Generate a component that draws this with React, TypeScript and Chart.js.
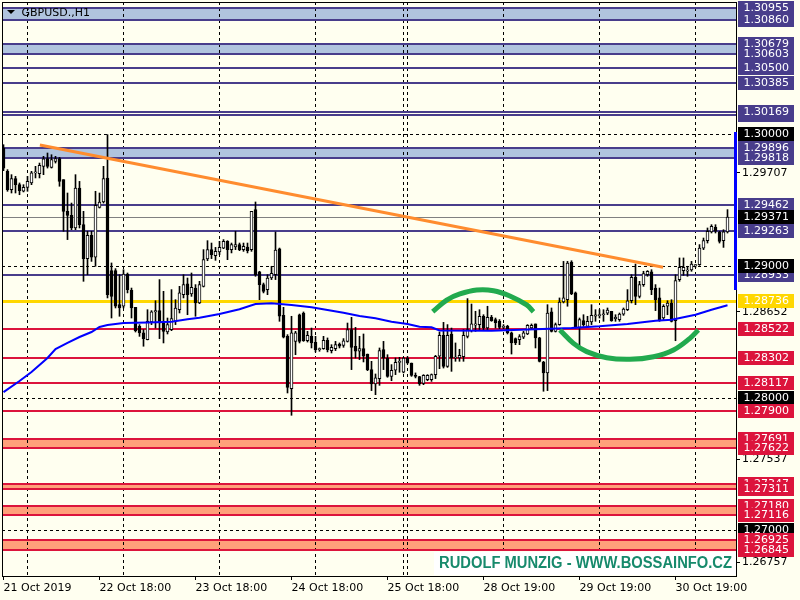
import { useEffect, useRef } from 'react';
import { Chart, registerables } from 'chart.js';

Chart.register(...registerables);

// ---------- DATA (GBPUSD., H1) ----------
const openP = [
  1.29894,1.29717,1.29578,1.29662,1.29616,1.29566,1.29596,1.29629,1.29705,1.29700,
  1.29755,1.29813,1.29747,1.29793,1.29813,1.29654,1.29414,1.29384,1.29288,1.29591,
  1.29313,1.29056,1.29232,1.29066,1.29444,1.29485,1.29667,1.28965,1.28965,1.28707,
  1.28695,1.28939,1.28816,1.28687,1.28543,1.28493,1.28442,1.28576,1.28652,1.28662,
  1.28568,1.28500,1.28518,1.28581,1.28669,1.28783,1.28864,1.28788,1.28833,1.28720,
  1.28846,1.29053,1.29124,1.29078,1.29106,1.29136,1.29187,1.29124,1.29144,1.29162,
  1.29124,1.29144,1.29124,1.29427,1.28955,1.28859,1.28821,1.28909,1.28934,1.29131,
  1.28626,1.28467,1.28071,1.28429,1.28631,1.28644,1.28434,1.28467,1.28422,1.28366,
  1.28374,1.28437,1.28359,1.28374,1.28409,1.28399,1.28429,1.28518,1.28392,1.28354,
  1.28374,1.28333,1.28215,1.28106,1.28147,1.28366,1.28303,1.28164,1.28210,1.28270,
  1.28195,1.28303,1.28265,1.28172,1.28162,1.28111,1.28139,1.28139,1.28177,1.28316,
  1.28475,1.28240,1.28485,1.28303,1.28303,1.28313,1.28467,1.28510,1.28551,1.28556,
  1.28619,1.28530,1.28611,1.28594,1.28581,1.28535,1.28543,1.28493,1.28450,1.28442,
  1.28460,1.28485,1.28530,1.28561,1.28455,1.28273,1.28190,1.28652,1.28505,1.28556,
  1.28727,1.28745,1.29030,1.28796,1.28535,1.28586,1.28543,1.28576,1.28619,1.28624,
  1.28631,1.28642,1.28657,1.28601,1.28594,1.28636,1.28669,1.28737,1.28914,1.28770,
  1.28859,1.28934,1.28955,1.28833,1.28758,1.28606,1.28695,1.28720,1.28586,1.28897,
  1.28965,1.28960,1.28970,1.29000,1.29010,1.29136,1.29192,1.29258,1.29293,1.29255,
  1.29192,1.29258,
];
const highP = [
  1.29919,1.29730,1.29692,1.29679,1.29629,1.29616,1.29679,1.29717,1.29755,1.29780,
  1.29831,1.29856,1.29843,1.29831,1.29823,1.29654,1.29553,1.29477,1.29692,1.29641,
  1.29414,1.29263,1.29263,1.29566,1.29553,1.29755,1.29995,1.29023,1.28980,1.28934,
  1.28972,1.28947,1.28833,1.28687,1.28556,1.28518,1.28669,1.28662,1.28737,1.28897,
  1.28808,1.28606,1.28821,1.28745,1.28846,1.28934,1.28909,1.28947,1.28859,1.28884,
  1.29124,1.29192,1.29174,1.29141,1.29187,1.29200,1.29192,1.29174,1.29263,1.29174,
  1.29174,1.29174,1.29414,1.29485,1.28960,1.28871,1.28934,1.28998,1.29258,1.29136,
  1.28687,1.28480,1.28619,1.28505,1.28636,1.28652,1.28505,1.28530,1.28467,1.28379,
  1.28467,1.28455,1.28404,1.28429,1.28417,1.28450,1.28568,1.28611,1.28535,1.28467,
  1.28485,1.28333,1.28278,1.28182,1.28379,1.28429,1.28328,1.28253,1.28303,1.28308,
  1.28308,1.28313,1.28265,1.28190,1.28164,1.28177,1.28177,1.28182,1.28323,1.28500,
  1.28573,1.28556,1.28530,1.28417,1.28369,1.28518,1.28753,1.28712,1.28657,1.28669,
  1.28631,1.28695,1.28626,1.28606,1.28594,1.28556,1.28551,1.28500,1.28455,1.28480,
  1.28505,1.28556,1.28561,1.28561,1.28460,1.28278,1.28707,1.28682,1.28568,1.28758,
  1.29035,1.29035,1.29040,1.28803,1.28606,1.28631,1.28619,1.28707,1.28669,1.28669,
  1.28669,1.28682,1.28657,1.28631,1.28644,1.28682,1.28821,1.28934,1.29015,1.28884,
  1.28960,1.28965,1.28972,1.28859,1.28833,1.28707,1.28737,1.28745,1.28934,1.29061,
  1.29061,1.28998,1.29035,1.29010,1.29162,1.29212,1.29288,1.29313,1.29313,1.29263,
  1.29275,1.29427,
];
const lowP = [
  1.29722,1.29566,1.29553,1.29553,1.29540,1.29561,1.29566,1.29616,1.29667,1.29667,
  1.29692,1.29742,1.29742,1.29780,1.29604,1.29263,1.29200,1.29275,1.29275,1.29288,
  1.28884,1.28934,1.29035,1.28998,1.29439,1.29477,1.28758,1.28606,1.28682,1.28619,
  1.28682,1.28796,1.28606,1.28500,1.28467,1.28392,1.28440,1.28556,1.28530,1.28450,
  1.28417,1.28485,1.28510,1.28556,1.28644,1.28758,1.28631,1.28770,1.28619,1.28715,
  1.28841,1.29040,1.29056,1.29043,1.29086,1.29131,1.29048,1.29099,1.29124,1.29116,
  1.29111,1.29099,1.29111,1.28922,1.28745,1.28796,1.28783,1.28897,1.28897,1.28581,
  1.28455,1.28038,1.27869,1.28328,1.28417,1.28429,1.28424,1.28379,1.28349,1.28354,
  1.28369,1.28349,1.28341,1.28359,1.28379,1.28384,1.28424,1.28215,1.28303,1.28291,
  1.28273,1.28207,1.28056,1.28025,1.28096,1.28215,1.28157,1.28131,1.28177,1.28195,
  1.28190,1.28258,1.28164,1.28152,1.28096,1.28101,1.28131,1.28126,1.28147,1.28222,
  1.28227,1.28232,1.28202,1.28278,1.28278,1.28278,1.28455,1.28500,1.28505,1.28518,
  1.28510,1.28518,1.28581,1.28530,1.28525,1.28525,1.28485,1.28333,1.28404,1.28404,
  1.28450,1.28480,1.28518,1.28379,1.28273,1.28051,1.28056,1.28500,1.28500,1.28551,
  1.28720,1.28695,1.28783,1.28530,1.28392,1.28543,1.28535,1.28556,1.28581,1.28606,
  1.28581,1.28631,1.28581,1.28581,1.28581,1.28626,1.28662,1.28720,1.28707,1.28758,
  1.28846,1.28922,1.28783,1.28662,1.28581,1.28594,1.28631,1.28576,1.28434,1.28884,
  1.28929,1.28922,1.28960,1.28990,1.29005,1.29124,1.29174,1.29250,1.29250,1.29174,
  1.29141,1.29250,
];
const closeP = [
  1.29742,1.29578,1.29662,1.29616,1.29571,1.29596,1.29641,1.29705,1.29712,1.29763,
  1.29811,1.29755,1.29806,1.29813,1.29641,1.29414,1.29384,1.29288,1.29591,1.29313,
  1.29056,1.29232,1.29066,1.29460,1.29485,1.29662,1.28783,1.28770,1.28695,1.28682,
  1.28939,1.28821,1.28682,1.28510,1.28493,1.28450,1.28581,1.28652,1.28662,1.28568,
  1.28505,1.28556,1.28601,1.28682,1.28796,1.28859,1.28783,1.28838,1.28720,1.28859,
  1.29048,1.29124,1.29086,1.29111,1.29141,1.29187,1.29124,1.29162,1.29162,1.29124,
  1.29149,1.29116,1.29414,1.28934,1.28859,1.28808,1.28909,1.28945,1.29121,1.28619,
  1.28460,1.28081,1.28493,1.28493,1.28429,1.28434,1.28475,1.28417,1.28366,1.28374,
  1.28437,1.28366,1.28384,1.28404,1.28392,1.28434,1.28518,1.28384,1.28354,1.28374,
  1.28316,1.28215,1.28106,1.28152,1.28359,1.28303,1.28164,1.28210,1.28270,1.28278,
  1.28303,1.28265,1.28172,1.28164,1.28106,1.28172,1.28172,1.28177,1.28316,1.28475,
  1.28240,1.28475,1.28303,1.28308,1.28323,1.28475,1.28518,1.28561,1.28561,1.28619,
  1.28530,1.28611,1.28586,1.28571,1.28535,1.28543,1.28493,1.28417,1.28417,1.28465,
  1.28493,1.28551,1.28551,1.28455,1.28278,1.28190,1.28644,1.28505,1.28556,1.28727,
  1.28758,1.29023,1.28788,1.28535,1.28594,1.28556,1.28581,1.28626,1.28631,1.28631,
  1.28636,1.28667,1.28586,1.28611,1.28636,1.28674,1.28737,1.28914,1.28770,1.28859,
  1.28942,1.28960,1.28821,1.28745,1.28586,1.28695,1.28720,1.28581,1.28889,1.28990,
  1.28990,1.28970,1.29015,1.29010,1.29136,1.29192,1.29263,1.29301,1.29263,1.29187,
  1.29258,1.29371,
];

// x-axis: bar index of each date label
const dateTickBars = [0, 24, 48, 72, 96, 120, 144, 168];
const dateTickLabels = ['21 Oct 2019', '22 Oct 18:00', '23 Oct 18:00', '24 Oct 18:00', '25 Oct 18:00', '28 Oct 19:00', '29 Oct 19:00', '30 Oct 19:00'];
const gridBars = [6, 30, 54, 78, 100, 101, 125, 149, 173];
const priceTicks = [1.29707, 1.28652, 1.27537, 1.26757];

// moving average (read at selected bars)
const maBars = [0, 4, 7, 11, 13, 16, 19, 22, 24, 26, 30, 36, 42, 46, 49, 54, 59, 63, 67, 72, 77, 81, 85, 89, 93, 97, 101, 104, 107, 109, 122, 142, 149, 156, 163, 167, 173, 177, 181];
const maValues = [1.28045, 1.28129, 1.28197, 1.28303, 1.28371, 1.28417, 1.28462, 1.28500, 1.28538, 1.28553, 1.28568, 1.28572, 1.28578, 1.28596, 1.28608, 1.28636, 1.28672, 1.28712, 1.28717, 1.28705, 1.28687, 1.28667, 1.28646, 1.28621, 1.28604, 1.28578, 1.28561, 1.28540, 1.28536, 1.28511, 1.28510, 1.28530, 1.28543, 1.28561, 1.28586, 1.28593, 1.28631, 1.28669, 1.28702];

// orange trend line
const trendBars = [9.1, 164.9];
const trendValues = [1.29917, 1.28990];

// green arcs
const domeBars = [107.3, 110.8, 114.1, 118.3, 122.5, 126.6, 130.8, 132.5];
const domeValues = [1.28654, 1.28742, 1.28788, 1.28818, 1.28813, 1.28773, 1.28705, 1.28654];
const bowlBars = [139.1, 142.5, 145.8, 150.8, 156.6, 162.5, 167.5, 171.6, 173.7];
const bowlValues = [1.28515, 1.28414, 1.28351, 1.28305, 1.28293, 1.28313, 1.28364, 1.28452, 1.28515];

// horizontal levels
const blueLevels = [1.30955, 1.30860, 1.30679, 1.30603, 1.30500, 1.30385, 1.30169, 1.30145, 1.29896, 1.29818, 1.29462, 1.29263, 1.28933];
const blueBands = [[1.30955, 1.30860], [1.30679, 1.30603], [1.29896, 1.29818]];
const redLevels = [1.28522, 1.28302, 1.28117, 1.27900, 1.27691, 1.27622, 1.27347, 1.27311, 1.27180, 1.27116, 1.26925, 1.26845];
const redBands = [[1.27691, 1.27622], [1.27347, 1.27311], [1.27180, 1.27116], [1.26925, 1.26845]];
const roundLevels = [1.30000, 1.29000, 1.28000, 1.27000];
const goldLevel = 1.28736;
const currentPrice = 1.29371;
const rangeBar = [1.30015, 1.28818];

// right-axis price labels, in drawing order
const labelValues = [1.30955, 1.30860, 1.30679, 1.30603, 1.30500, 1.30385, 1.30145, 1.30169, 1.30000, 1.29896, 1.29818, 1.29462, 1.29263, 1.29371, 1.28933, 1.29000, 1.28736, 1.28522, 1.28302, 1.28117, 1.28000, 1.27900, 1.27691, 1.27622, 1.27347, 1.27311, 1.27180, 1.27116, 1.27000, 1.26925, 1.26845];
const labelKinds = ['blue', 'blue', 'blue', 'blue', 'blue', 'blue', 'blue', 'blue', 'black', 'blue', 'blue', 'blue', 'blue', 'black', 'blue', 'black', 'gold', 'red', 'red', 'red', 'black', 'red', 'red', 'red', 'red', 'red', 'red', 'red', 'black', 'red', 'red'];

const symbolTitle = 'GBPUSD.,H1';
const watermark = 'RUDOLF MUNZIG - WWW.BOSSAINFO.CZ';

// ---------- STYLE ----------
const BG = '#FFFFF0';
const BLUE_LINE = '#483D8B';
const BLUE_FILL = '#B0C4DE';
const RED_LINE = '#DC143C';
const RED_FILL = '#FFA07A';
const GOLD = '#FFD700';
const FONT = '"DejaVu Sans", sans-serif';
const kindColor: Record<string, string> = { blue: BLUE_LINE, red: RED_LINE, black: '#000000', gold: GOLD };

const Y_MAX = 1.31;
const Y_MIN = 1.2665152;
const X_MIN = -0.375;
const X_MAX = 183.125;

const mt4Plugin = {
  id: 'mt4Overlay',
  beforeDraw(chart: any) {
    const ctx = chart.ctx;
    ctx.save();
    ctx.fillStyle = BG;
    ctx.fillRect(0, 0, chart.width, chart.height);
    ctx.restore();
  },
  beforeDatasetsDraw(chart: any) {
    const { ctx, chartArea: a, scales } = chart;
    const x = scales.x;
    const y = scales.y;
    const w = a.right - a.left;
    ctx.save();
    ctx.beginPath();
    ctx.rect(a.left, a.top, w, a.bottom - a.top);
    ctx.clip();

    // bands
    const band = (pair: number[], color: string) => {
      const y1 = Math.round(y.getPixelForValue(pair[0]));
      const y2 = Math.round(y.getPixelForValue(pair[1]));
      ctx.fillStyle = color;
      ctx.fillRect(a.left, Math.min(y1, y2), w, Math.abs(y2 - y1));
    };
    blueBands.forEach((b) => band(b, BLUE_FILL));
    redBands.forEach((b) => band(b, RED_FILL));

    // dashed grid (vertical) and round-number lines
    ctx.strokeStyle = '#000';
    ctx.lineWidth = 1;
    ctx.setLineDash([3, 3]);
    gridBars.forEach((b) => {
      const px = Math.floor(x.getPixelForValue(b)) + 0.5;
      ctx.beginPath();
      ctx.moveTo(px, a.top);
      ctx.lineTo(px, a.bottom);
      ctx.stroke();
    });
    roundLevels.forEach((v) => {
      const py = Math.round(y.getPixelForValue(v)) + 0.5;
      ctx.beginPath();
      ctx.moveTo(a.left, py);
      ctx.lineTo(a.right, py);
      ctx.stroke();
    });
    ctx.setLineDash([]);

    const hline = (v: number, color: string, lw: number) => {
      const py = Math.round(y.getPixelForValue(v));
      ctx.fillStyle = color;
      ctx.fillRect(a.left, py - Math.floor(lw / 2), w, lw);
    };
    hline(currentPrice, '#808080', 1);
    blueLevels.forEach((v) => hline(v, BLUE_LINE, 2));
    redLevels.forEach((v) => hline(v, RED_LINE, 2));
    hline(goldLevel, GOLD, 3);
    ctx.restore();
  },
  afterDatasetsDraw(chart: any) {
    const { ctx, chartArea: a } = chart;
    ctx.save();
    // watermark label, anchored to the lower right corner
    const bw = 302;
    const bh = 23;
    const bx = a.right - bw;
    const by = a.bottom - bh - 1;
    ctx.fillStyle = '#FFFFFF';
    ctx.fillRect(bx, by, bw, bh);
    ctx.font = `bold 16px "Liberation Sans", sans-serif`;
    const tw = ctx.measureText(watermark).width;
    const target = 293;
    ctx.translate(bx + 5, by + bh / 2 + 0.5);
    ctx.scale(target / tw, 1);
    ctx.fillStyle = '#178A6C';
    ctx.textBaseline = 'middle';
    ctx.textAlign = 'left';
    ctx.fillText(watermark, 0, 0);
    ctx.restore();
  },
  afterDraw(chart: any) {
    const { ctx, chartArea: a, scales } = chart;
    const y = scales.y;
    ctx.save();
    // plot border
    ctx.strokeStyle = '#000';
    ctx.lineWidth = 1;
    ctx.strokeRect(a.left + 0.5, a.top + 0.5, a.right - a.left, a.bottom - a.top);

    // blue range bar on the right edge
    const r1 = y.getPixelForValue(rangeBar[0]);
    const r2 = y.getPixelForValue(rangeBar[1]);
    ctx.fillStyle = '#0000FF';
    ctx.fillRect(a.right - 2, Math.round(r1), 3, Math.round(r2 - r1));

    // price labels
    ctx.font = `11px ${FONT}`;
    ctx.textBaseline = 'middle';
    ctx.textAlign = 'left';
    labelValues.forEach((v, i) => {
      const py = Math.round(y.getPixelForValue(v));
      ctx.fillStyle = kindColor[labelKinds[i]];
      ctx.fillRect(a.right + 2, py - 7, 56, 14);
      ctx.fillStyle = '#FFFFFF';
      ctx.fillText(v.toFixed(5), a.right + 7.5, py + 0.5);
    });

    // title
    ctx.fillStyle = '#000';
    ctx.beginPath();
    ctx.moveTo(a.left + 5, a.top + 8);
    ctx.lineTo(a.left + 13, a.top + 8);
    ctx.lineTo(a.left + 9, a.top + 12);
    ctx.closePath();
    ctx.fill();
    ctx.font = `11px ${FONT}`;
    ctx.textBaseline = 'middle';
    ctx.fillText(symbolTitle, a.left + 19.5, a.top + 11);
    ctx.restore();
  },
};

export default function App() {
  const canvasRef = useRef<HTMLCanvasElement | null>(null);

  useEffect(() => {
    document.body.style.margin = '0';
    const canvas = canvasRef.current;
    if (!canvas) return;
    const bars = openP.map((_, i) => i);

    const chart = new Chart(canvas, {
      type: 'bar',
      data: {
        datasets: [
          {
            type: 'line',
            data: domeBars.map((b, i) => ({ x: b, y: domeValues[i] })),
            borderColor: '#22AA4E',
            borderWidth: 5,
            pointRadius: 0,
            tension: 0.4,
            order: 1,
          } as any,
          {
            type: 'line',
            data: bowlBars.map((b, i) => ({ x: b, y: bowlValues[i] })),
            borderColor: '#22AA4E',
            borderWidth: 5,
            pointRadius: 0,
            tension: 0.4,
            order: 1,
          } as any,
          {
            type: 'line',
            data: trendBars.map((b, i) => ({ x: b, y: trendValues[i] })),
            borderColor: '#FF8C2E',
            borderWidth: 3,
            pointRadius: 0,
            tension: 0,
            order: 2,
          } as any,
          {
            type: 'line',
            data: maBars.map((b, i) => ({ x: b, y: maValues[i] })),
            borderColor: '#0000FF',
            borderWidth: 2,
            pointRadius: 0,
            tension: 0,
            order: 3,
          } as any,
          {
            type: 'bar',
            data: bars.map((i) => ({ x: i, y: [openP[i], closeP[i]] })),
            backgroundColor: bars.map((i) => (closeP[i] >= openP[i] ? '#FFFFFF' : '#000000')),
            borderColor: '#000000',
            borderWidth: 1,
            borderSkipped: false,
            barThickness: 3,
            minBarLength: 1,
            grouped: false,
            order: 4,
          } as any,
          {
            type: 'bar',
            data: bars.map((i) => ({ x: i, y: [lowP[i], highP[i]] })),
            backgroundColor: '#000000',
            borderWidth: 0,
            barThickness: 1,
            grouped: false,
            order: 5,
          } as any,
        ],
      },
      options: {
        responsive: false,
        animation: false,
        devicePixelRatio: 1,
        events: [],
        layout: { padding: { left: 2, top: 2, right: 0, bottom: 0 } },
        plugins: { legend: { display: false }, tooltip: { enabled: false }, title: { display: false } },
        scales: {
          x: {
            type: 'linear',
            position: 'bottom',
            min: X_MIN,
            max: X_MAX,
            offset: false,
            border: { display: false },
            grid: { display: true, drawOnChartArea: false, drawTicks: true, tickLength: 4, color: '#000000', offset: false },
            ticks: {
              autoSkip: false,
              maxRotation: 0,
              minRotation: 0,
              align: 'start',
              padding: 2,
              color: '#000000',
              font: { family: 'DejaVu Sans', size: 11 },
              callback: (_v: any, idx: number) => dateTickLabels[idx],
            },
            afterBuildTicks: (s: any) => {
              s.ticks = dateTickBars.map((v) => ({ value: v }));
            },
            afterFit: (s: any) => {
              s.height = 24;
              s.paddingLeft = 0;
              s.paddingRight = 0;
              s.paddingTop = 0;
              s.paddingBottom = 0;
            },
          },
          y: {
            type: 'linear',
            position: 'right',
            min: Y_MIN,
            max: Y_MAX,
            beginAtZero: false,
            border: { display: false },
            grid: { display: true, drawOnChartArea: false, drawTicks: true, tickLength: 4, color: '#000000' },
            ticks: {
              autoSkip: false,
              padding: 2,
              color: '#000000',
              font: { family: 'DejaVu Sans', size: 11 },
              callback: (v: any) => Number(v).toFixed(5),
            },
            afterBuildTicks: (s: any) => {
              s.ticks = priceTicks.map((v) => ({ value: v }));
            },
            afterFit: (s: any) => {
              s.width = 64;
              s.paddingLeft = 0;
              s.paddingRight = 0;
              s.paddingTop = 0;
              s.paddingBottom = 0;
            },
          },
        },
      } as any,
      plugins: [mt4Plugin],
    });
    return () => chart.destroy();
  }, []);

  return (
    <div style={{ position: 'absolute', left: 0, top: 0, width: 800, height: 600, background: BG }}>
      <canvas ref={canvasRef} width={800} height={600} style={{ display: 'block', width: 800, height: 600 }} />
    </div>
  );
}
